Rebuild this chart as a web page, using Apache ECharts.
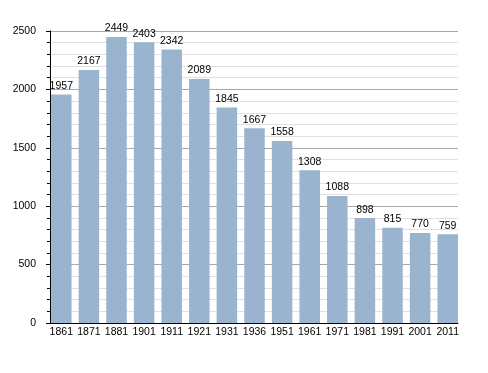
<!DOCTYPE html>
<html><head><meta charset="utf-8">
<script src="https://cdn.jsdelivr.net/npm/echarts@6/dist/echarts.min.js"></script>
<style>html,body{margin:0;padding:0;background:#fff}#c{width:488px;height:373px}</style>
</head><body><div id="c"></div>
<script>
var categories = ['1861','1871','1881','1901','1911','1921','1931','1936','1951','1961','1971','1981','1991','2001','2011'];
var population = [1957,2167,2449,2403,2342,2089,1845,1667,1558,1308,1088,898,815,770,759];
var yTicks = [0,500,1000,1500,2000,2500];

var yMin = yTicks[0], yMax = yTicks[yTicks.length-1];
var chart = echarts.init(document.getElementById('c'), null, {renderer:'canvas'});
chart.setOption({
  animation:false,
  backgroundColor:'#fff',
  textStyle:{fontFamily:'Liberation Sans, Arial, sans-serif'},
  grid:[
    {left:50,right:30,top:31,bottom:50,containLabel:false},
    {left:47.5,right:26.5,top:31,bottom:50,containLabel:false}
  ],
  xAxis:[{
    gridIndex:0, type:'category', data:categories,
    axisLine:{show:true,lineStyle:{color:'#000',width:1}},
    axisTick:{show:false}, axisLabel:{show:false}, splitLine:{show:false}
  },{
    gridIndex:1, type:'category', data:categories,
    axisLine:{show:false}, axisTick:{show:false},
    axisLabel:{color:'#000',fontSize:10.5,margin:4,interval:0}
  }],
  yAxis:[{
    gridIndex:0, type:'value', min:yMin, max:yMax, interval:500,
    axisLine:{show:true,lineStyle:{color:'#000',width:1}},
    axisTick:{show:true,length:4,lineStyle:{color:'#000'}},
    minorTick:{show:true,splitNumber:5,length:3,lineStyle:{color:'#000'}},
    splitLine:{show:true,lineStyle:{color:'#a8a8a8',width:1}},
    minorSplitLine:{show:true,lineStyle:{color:'#e0e0e0',width:1}},
    axisLabel:{color:'#000',fontSize:10.5,margin:14,formatter:function(v){return String(v);}}
  },{
    gridIndex:1, type:'value', min:yMin, max:yMax, interval:500, show:false,
    splitLine:{show:false}
  }],
  series:[{
    type:'bar', xAxisIndex:1, yAxisIndex:1, data:population, barWidth:20.5,
    itemStyle:{color:'#9ab3cf'},
    label:{show:true,position:'top',distance:3,color:'#000',fontSize:10.5}
  }]
});
</script></body></html>
